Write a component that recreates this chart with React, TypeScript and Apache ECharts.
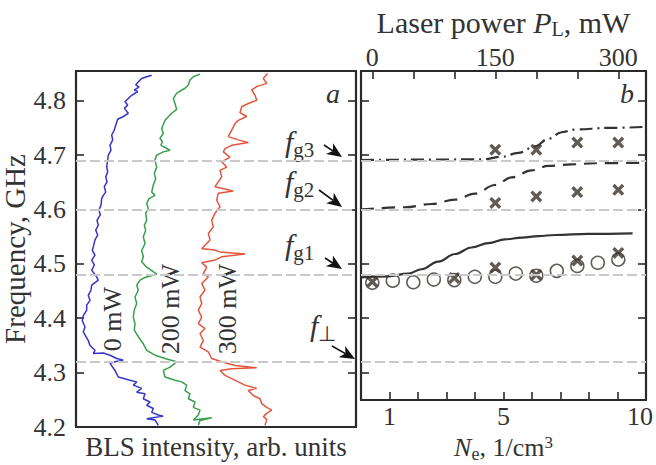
import React, { useEffect, useRef } from "react";
import * as echarts from "echarts";

const FONT = "'Liberation Serif', 'Times New Roman', serif";
const INK = "#333333";
const CURVE = "#333333";
const MARK = "#3a322c";
const GREY = "#c9c9c9";

// tick and label values
const freqTicks = [4.3, 4.4, 4.5, 4.6, 4.7, 4.8];
const freqLabels = [4.2, 4.3, 4.4, 4.5, 4.6, 4.7, 4.8];
const densityTicks = [1, 2, 3, 4, 5, 6, 7, 8, 9];
const densityLabels = [1, 5, 10];
const powerTicks = [0, 50, 100, 150, 200, 250, 300];
const powerLabels = [0, 150, 300];
const refLevels = [4.689, 4.6, 4.482, 4.321];

// BLS spectra: [intensity (arb. units), frequency GHz]
const trace0mW: [number, number][] = [
  [75.7, 4.847], [70.7, 4.844], [65.7, 4.841], [62.3, 4.835], [59.7, 4.829], [63, 4.825], [58.3, 4.82], [61.7, 4.817],
  [55.7, 4.81], [52.3, 4.804], [49, 4.798], [51.7, 4.792], [48.3, 4.786], [52.3, 4.777], [47.3, 4.771], [41.7, 4.766],
  [39.7, 4.755], [38.3, 4.746], [35.7, 4.737], [36.7, 4.728], [34, 4.718], [35, 4.709], [32.3, 4.7], [31.7, 4.691],
  [30.7, 4.678], [31.7, 4.669], [29.7, 4.66], [31, 4.651], [28.3, 4.642], [29.7, 4.632], [27.3, 4.626], [25.7, 4.62],
  [25, 4.608], [23, 4.599], [24.3, 4.59], [21, 4.58], [22.3, 4.571], [19.7, 4.562], [21.7, 4.553], [19, 4.544],
  [17.7, 4.534], [16.3, 4.525], [19, 4.516], [15.7, 4.507], [18.3, 4.498], [15.7, 4.488], [19.7, 4.479], [22.3, 4.47],
  [15.7, 4.461], [15, 4.452], [12.3, 4.442], [14, 4.433], [10.7, 4.424], [10.7, 4.415], [7.3, 4.405], [6.3, 4.396],
  [9, 4.384], [7.3, 4.375], [12.3, 4.359], [14, 4.35], [19, 4.341], [17.3, 4.335], [27.3, 4.336], [34, 4.332],
  [40.7, 4.326], [47.3, 4.323], [39, 4.32], [34, 4.317], [39, 4.304], [42.3, 4.292], [54, 4.286], [60.7, 4.283],
  [57.3, 4.277], [65.7, 4.271], [60.7, 4.264], [69, 4.261], [67.3, 4.252], [74, 4.246], [70.7, 4.24], [77.3, 4.234],
  [75.7, 4.227], [82.3, 4.222], [87.3, 4.22], [70.7, 4.215], [79, 4.213], [82.3, 4.203],
];
const trace200mW: [number, number][] = [
  [124, 4.849], [117.3, 4.844], [114, 4.838], [112.3, 4.829], [109, 4.823], [100.7, 4.814], [97.3, 4.804], [99, 4.795],
  [100.7, 4.784], [95.7, 4.777], [89, 4.764], [85.7, 4.749], [87.3, 4.74], [84, 4.731], [86.3, 4.725], [85, 4.718],
  [94, 4.709], [87.3, 4.706], [80.7, 4.7], [79, 4.691], [80.7, 4.678], [78.3, 4.666], [79.7, 4.657], [77.3, 4.645],
  [75.7, 4.632], [79, 4.626], [73, 4.62], [70.7, 4.611], [72.3, 4.602], [69.7, 4.593], [70.7, 4.58], [68.3, 4.571],
  [69.7, 4.562], [67.3, 4.55], [69, 4.537], [65.7, 4.525], [67.3, 4.513], [65.7, 4.504], [70.7, 4.494], [80.7, 4.481],
  [69, 4.475], [64, 4.47], [60.7, 4.461], [62.3, 4.452], [59, 4.439], [60.7, 4.427], [58.3, 4.415], [57.3, 4.402],
  [59, 4.39], [58.3, 4.378], [62.3, 4.366], [67.3, 4.353], [70.7, 4.341], [79, 4.332], [89, 4.326], [100.7, 4.32],
  [94, 4.31], [87.3, 4.304], [89, 4.292], [99, 4.286], [105.7, 4.283], [110.7, 4.277], [109, 4.267], [114, 4.261],
  [112.3, 4.252], [119, 4.246], [117.3, 4.236], [124, 4.231], [122.3, 4.222], [117.3, 4.213], [135.7, 4.217],
  [124, 4.212], [122.3, 4.203],
];
const trace300mW: [number, number][] = [
  [191.7, 4.85], [187.3, 4.841], [190.7, 4.832], [180.7, 4.826], [175.7, 4.82], [179, 4.81], [180.7, 4.801],
  [172.3, 4.795], [165.7, 4.789], [164, 4.778], [170.7, 4.771], [162.3, 4.764], [159, 4.758], [155.7, 4.746],
  [152.3, 4.734], [162.3, 4.728], [172.3, 4.723], [155.7, 4.718], [149, 4.712], [147.3, 4.706], [154, 4.696],
  [145.7, 4.688], [150.7, 4.678], [144, 4.672], [145.7, 4.66], [139, 4.642], [157.3, 4.634], [142.3, 4.63],
  [140.7, 4.617], [144, 4.605], [139, 4.593], [135.7, 4.58], [137.3, 4.568], [132.3, 4.556], [134, 4.544],
  [125.7, 4.528], [137.3, 4.526], [144, 4.522], [169, 4.518], [145.7, 4.513], [139, 4.507], [125.7, 4.502],
  [130.7, 4.494], [127.3, 4.482], [132.3, 4.476], [125.7, 4.464], [129, 4.452], [124, 4.439], [125.7, 4.427],
  [122.3, 4.415], [125.7, 4.402], [122.3, 4.39], [129, 4.381], [124, 4.372], [127.3, 4.359], [124, 4.347],
  [132.3, 4.338], [135.7, 4.326], [145.7, 4.32], [159, 4.313], [180.7, 4.309], [155.7, 4.307], [144, 4.304],
  [149, 4.295], [155.7, 4.289], [162.3, 4.283], [169, 4.277], [180.7, 4.271], [172.3, 4.267], [177.3, 4.258],
  [184, 4.252], [185.7, 4.243], [190.7, 4.236], [195.7, 4.231], [190.7, 4.225], [187.3, 4.219], [190.7, 4.214],
  [189, 4.203],
];

// model curves vs N_e
const modelG1: [number, number][] = [
  [0, 4.475], [0.96, 4.477], [1.66, 4.482], [2.13, 4.49], [2.71, 4.504], [3.3, 4.518], [3.88, 4.53], [4.47, 4.538],
  [5.05, 4.545], [5.64, 4.548], [6.22, 4.551], [6.81, 4.553], [7.98, 4.555], [9.53, 4.556],
];
const modelG2: [number, number][] = [
  [0, 4.6], [1.54, 4.604], [2.48, 4.61], [3.3, 4.618], [4.0, 4.629], [4.7, 4.645], [5.29, 4.659], [5.99, 4.672],
  [6.57, 4.68], [7.39, 4.683], [8.21, 4.685], [10, 4.686],
];
const modelG3: [number, number][] = [
  [0, 4.691], [4.24, 4.692], [4.94, 4.697], [5.52, 4.704], [6.11, 4.716], [6.57, 4.73], [7.04, 4.742],
  [7.5, 4.747], [8.68, 4.75], [10, 4.752],
];

// measured points vs laser power (mW)
const circlesG1: [number, number][] = [
  [0, 4.465], [25, 4.469], [50, 4.466], [75, 4.471], [100, 4.47], [125, 4.476], [150, 4.476], [175, 4.482],
  [200, 4.478], [225, 4.487], [250, 4.496], [275, 4.502], [300, 4.508],
];
const crossesG1: [number, number][] = [[0, 4.467], [100, 4.474], [150, 4.493], [200, 4.48], [250, 4.506], [300, 4.52]];
const crossesG2: [number, number][] = [[150, 4.612], [200, 4.624], [250, 4.632], [300, 4.636]];
const crossesG3: [number, number][] = [[150, 4.71], [200, 4.71], [250, 4.723], [300, 4.723]];

const CROSS = "path://M0,2L2,0L5,3L8,0L10,2L7,5L10,8L8,10L5,7L2,10L0,8L3,5Z";

function arrow(x1: number, y1: number, x2: number, y2: number) {
  const dx = x2 - x1, dy = y2 - y1;
  const len = Math.sqrt(dx * dx + dy * dy);
  const ux = dx / len, uy = dy / len;
  const hl = 15, hw = 6.5;
  const bx = x2 - ux * hl, by = y2 - uy * hl;
  return {
    type: "group",
    children: [
      { type: "line", shape: { x1, y1, x2: bx + ux * 4, y2: by + uy * 4 }, style: { stroke: "#111", lineWidth: 1.6 } },
      {
        type: "polygon",
        shape: { points: [[x2, y2], [bx - uy * hw, by + ux * hw], [bx + ux * 4, by + uy * 4], [bx + uy * hw, by - ux * hw]] },
        style: { fill: "#111" },
      },
    ],
  };
}

const richSub = {
  f: { fontFamily: FONT, fontStyle: "italic", fontSize: 30, fill: INK, color: INK },
  s: { fontFamily: FONT, fontSize: 21, padding: [17, 0, 0, 0], fill: INK, color: INK },
};

function fLabel(x: number, y: number, sub: string) {
  return {
    type: "text",
    x,
    y,
    style: {
      text: `{f|f}{s|${sub}}`,
      rich: richSub,
      textAlign: "left",
      textVerticalAlign: "middle",
      align: "left",
      verticalAlign: "middle",
    },
  };
}

function rotLabel(x: number, y: number, text: string) {
  return {
    type: "text",
    x,
    y,
    rotation: Math.PI / 2,
    style: {
      text,
      font: `26px ${FONT}`,
      fill: INK,
      textAlign: "center",
      textVerticalAlign: "middle",
      align: "center",
      verticalAlign: "middle",
    },
  };
}

export default function App() {
  const ref = useRef<HTMLDivElement>(null);
  useEffect(() => {
    if (!ref.current) return;
    const chart = echarts.init(ref.current, undefined, { renderer: "svg" });
    const frameLine = { show: true, onZero: false, lineStyle: { color: "#2a2a2a", width: 2.2 } };
    const label = { fontFamily: FONT, fontSize: 26, color: INK };
    const tickIn = (vals: number[]) => ({
      show: true,
      inside: true,
      length: 8,
      customValues: vals,
      lineStyle: { color: "#2a2a2a", width: 1.6 },
    });
    const fy = (v: number) => v.toFixed(1);
    const refLine = (xi: number, yi: number) => ({
      type: "line",
      xAxisIndex: xi,
      yAxisIndex: yi,
      data: [],
      silent: true,
      markLine: {
        silent: true,
        symbol: ["none", "none"],
        label: { show: false },
        emphasis: { disabled: true },
        lineStyle: { color: GREY, width: 2, type: [10, 4] },
        data: refLevels.map((v) => ({ yAxis: v })),
      },
    });
    const trace = (data: [number, number][], color: string) => ({
      type: "line",
      xAxisIndex: 0,
      yAxisIndex: 0,
      data,
      showSymbol: false,
      symbol: "none",
      silent: true,
      lineStyle: { color, width: 1.5 },
    });
    const model = (data: [number, number][], type: any) => ({
      type: "line",
      xAxisIndex: 2,
      yAxisIndex: 2,
      data,
      showSymbol: false,
      symbol: "none",
      smooth: 0.4,
      smoothMonotone: "x",
      silent: true,
      lineStyle: { color: CURVE, width: 2.2, type },
    });
    const crosses = (data: [number, number][]) => ({
      type: "scatter",
      xAxisIndex: 3,
      yAxisIndex: 2,
      data,
      symbol: CROSS,
      symbolSize: 12,
      silent: true,
      itemStyle: { color: MARK },
    });
    const richTop = {
      i: { fontFamily: FONT, fontSize: 30, fontStyle: "italic", color: INK },
      s: { fontFamily: FONT, fontSize: 20, color: INK, padding: [13, 0, 0, 0] },
      n: { fontFamily: FONT, fontSize: 30, color: INK },
    };
    const richBottom = {
      i: { fontFamily: FONT, fontSize: 26, fontStyle: "italic", color: INK },
      s: { fontFamily: FONT, fontSize: 18, color: INK, padding: [12, 0, 0, 0] },
      n: { fontFamily: FONT, fontSize: 26, color: INK },
      p: { fontFamily: FONT, fontSize: 17, color: INK, padding: [0, 0, 11, 0] },
      r: { fontFamily: FONT, fontSize: 26, color: INK, padding: [0, 12, 0, 0] },
    };

    chart.setOption({
      animation: false,
      grid: [
        { left: 76, top: 71, width: 280, height: 356, outerBoundsMode: "none", containLabel: false },
        { left: 361, top: 71, width: 285, height: 329, outerBoundsMode: "none", containLabel: false },
      ],
      xAxis: [
        {
          type: "value", gridIndex: 0, position: "bottom", min: 0, max: 280,
          axisLine: frameLine, axisTick: { show: false }, axisLabel: { show: false }, splitLine: { show: false },
          name: "BLS intensity, arb. units", nameLocation: "middle", nameGap: 6,
          nameTextStyle: { fontFamily: FONT, fontSize: 27, color: INK },
        },
        {
          type: "value", gridIndex: 0, position: "top", min: 0, max: 280,
          axisLine: frameLine, axisTick: { show: false }, axisLabel: { show: false }, splitLine: { show: false },
        },
        {
          type: "value", gridIndex: 1, position: "bottom", min: 0, max: 10,
          axisLine: frameLine, axisTick: tickIn(densityTicks),
          axisLabel: {
            ...label, customValues: densityLabels, margin: 3, rich: richBottom,
            formatter: (v: number) => (v === 10 ? "{r|10}" : String(v)),
          },
          splitLine: { show: false },
          name: "{i|N}{s|e}{n|, 1/cm}{p|3}", nameLocation: "middle", nameGap: 25,
          nameTextStyle: { fontFamily: FONT, fontSize: 26, color: INK, rich: richBottom },
        },
        {
          type: "value", gridIndex: 1, position: "top", min: -13.8, max: 333.8,
          axisLine: frameLine, axisTick: tickIn(powerTicks),
          axisLabel: { ...label, customValues: powerLabels, margin: 1 }, splitLine: { show: false },
          name: "{n|Laser power }{i|P}{s|L}{n|, mW}", nameLocation: "middle", nameGap: 32,
          nameTextStyle: { fontFamily: FONT, fontSize: 30, color: INK, rich: richTop },
        },
      ],
      yAxis: [
        {
          type: "value", gridIndex: 0, position: "left", min: 4.2, max: 4.8547,
          axisLine: frameLine, axisTick: tickIn(freqTicks),
          axisLabel: { ...label, customValues: freqLabels, formatter: fy, margin: 10 }, splitLine: { show: false },
          name: "Frequency, GHz", nameLocation: "middle", nameGap: 44, nameRotate: 90,
          nameTextStyle: { fontFamily: FONT, fontSize: 29, color: INK },
        },
        {
          type: "value", gridIndex: 0, position: "right", min: 4.2, max: 4.8547,
          axisLine: frameLine, axisTick: tickIn(freqTicks), axisLabel: { show: false }, splitLine: { show: false },
        },
        {
          type: "value", gridIndex: 1, position: "left", min: 4.2494, max: 4.8547,
          axisLine: frameLine, axisTick: tickIn(freqTicks), axisLabel: { show: false }, splitLine: { show: false },
        },
        {
          type: "value", gridIndex: 1, position: "right", min: 4.2494, max: 4.8547,
          axisLine: frameLine, axisTick: tickIn(freqTicks), axisLabel: { show: false }, splitLine: { show: false },
        },
      ],
      series: [
        refLine(0, 0),
        refLine(2, 2),
        trace(trace0mW, "#3535c8"),
        trace(trace200mW, "#3a9e4c"),
        trace(trace300mW, "#e4553e"),
        model(modelG1, "solid"),
        model(modelG2, [13, 8]),
        model(modelG3, [13, 5, 2, 5]),
        {
          type: "scatter",
          xAxisIndex: 3,
          yAxisIndex: 2,
          data: circlesG1,
          symbol: "circle",
          symbolSize: 13,
          silent: true,
          itemStyle: { color: "rgba(255,255,255,0)", borderColor: MARK, borderWidth: 1.5 },
        },
        crosses(crossesG1),
        crosses(crossesG2),
        crosses(crossesG3),
      ],
      graphic: [
        rotLabel(112, 319, "0 mW"),
        rotLabel(170, 309, "200 mW"),
        rotLabel(227, 309, "300 mW"),
        fLabel(285, 141, "g3"),
        fLabel(285, 181, "g2"),
        fLabel(285, 244, "g1"),
        fLabel(310, 325, "⊥"),
        arrow(324, 145, 342, 157),
        arrow(319, 190, 342, 207),
        arrow(325, 258, 342, 269),
        arrow(332, 346, 355, 359),
        {
          type: "text", x: 333, y: 93,
          style: { text: "a", font: `italic 28px ${FONT}`, fill: INK, textAlign: "center", textVerticalAlign: "middle", align: "center", verticalAlign: "middle" },
        },
        {
          type: "text", x: 627, y: 93,
          style: { text: "b", font: `italic 28px ${FONT}`, fill: INK, textAlign: "center", textVerticalAlign: "middle", align: "center", verticalAlign: "middle" },
        },
      ],
    });
    return () => chart.dispose();
  }, []);
  return <div ref={ref} style={{ width: 656, height: 465, position: "absolute", left: 0, top: 0 }} />;
}
